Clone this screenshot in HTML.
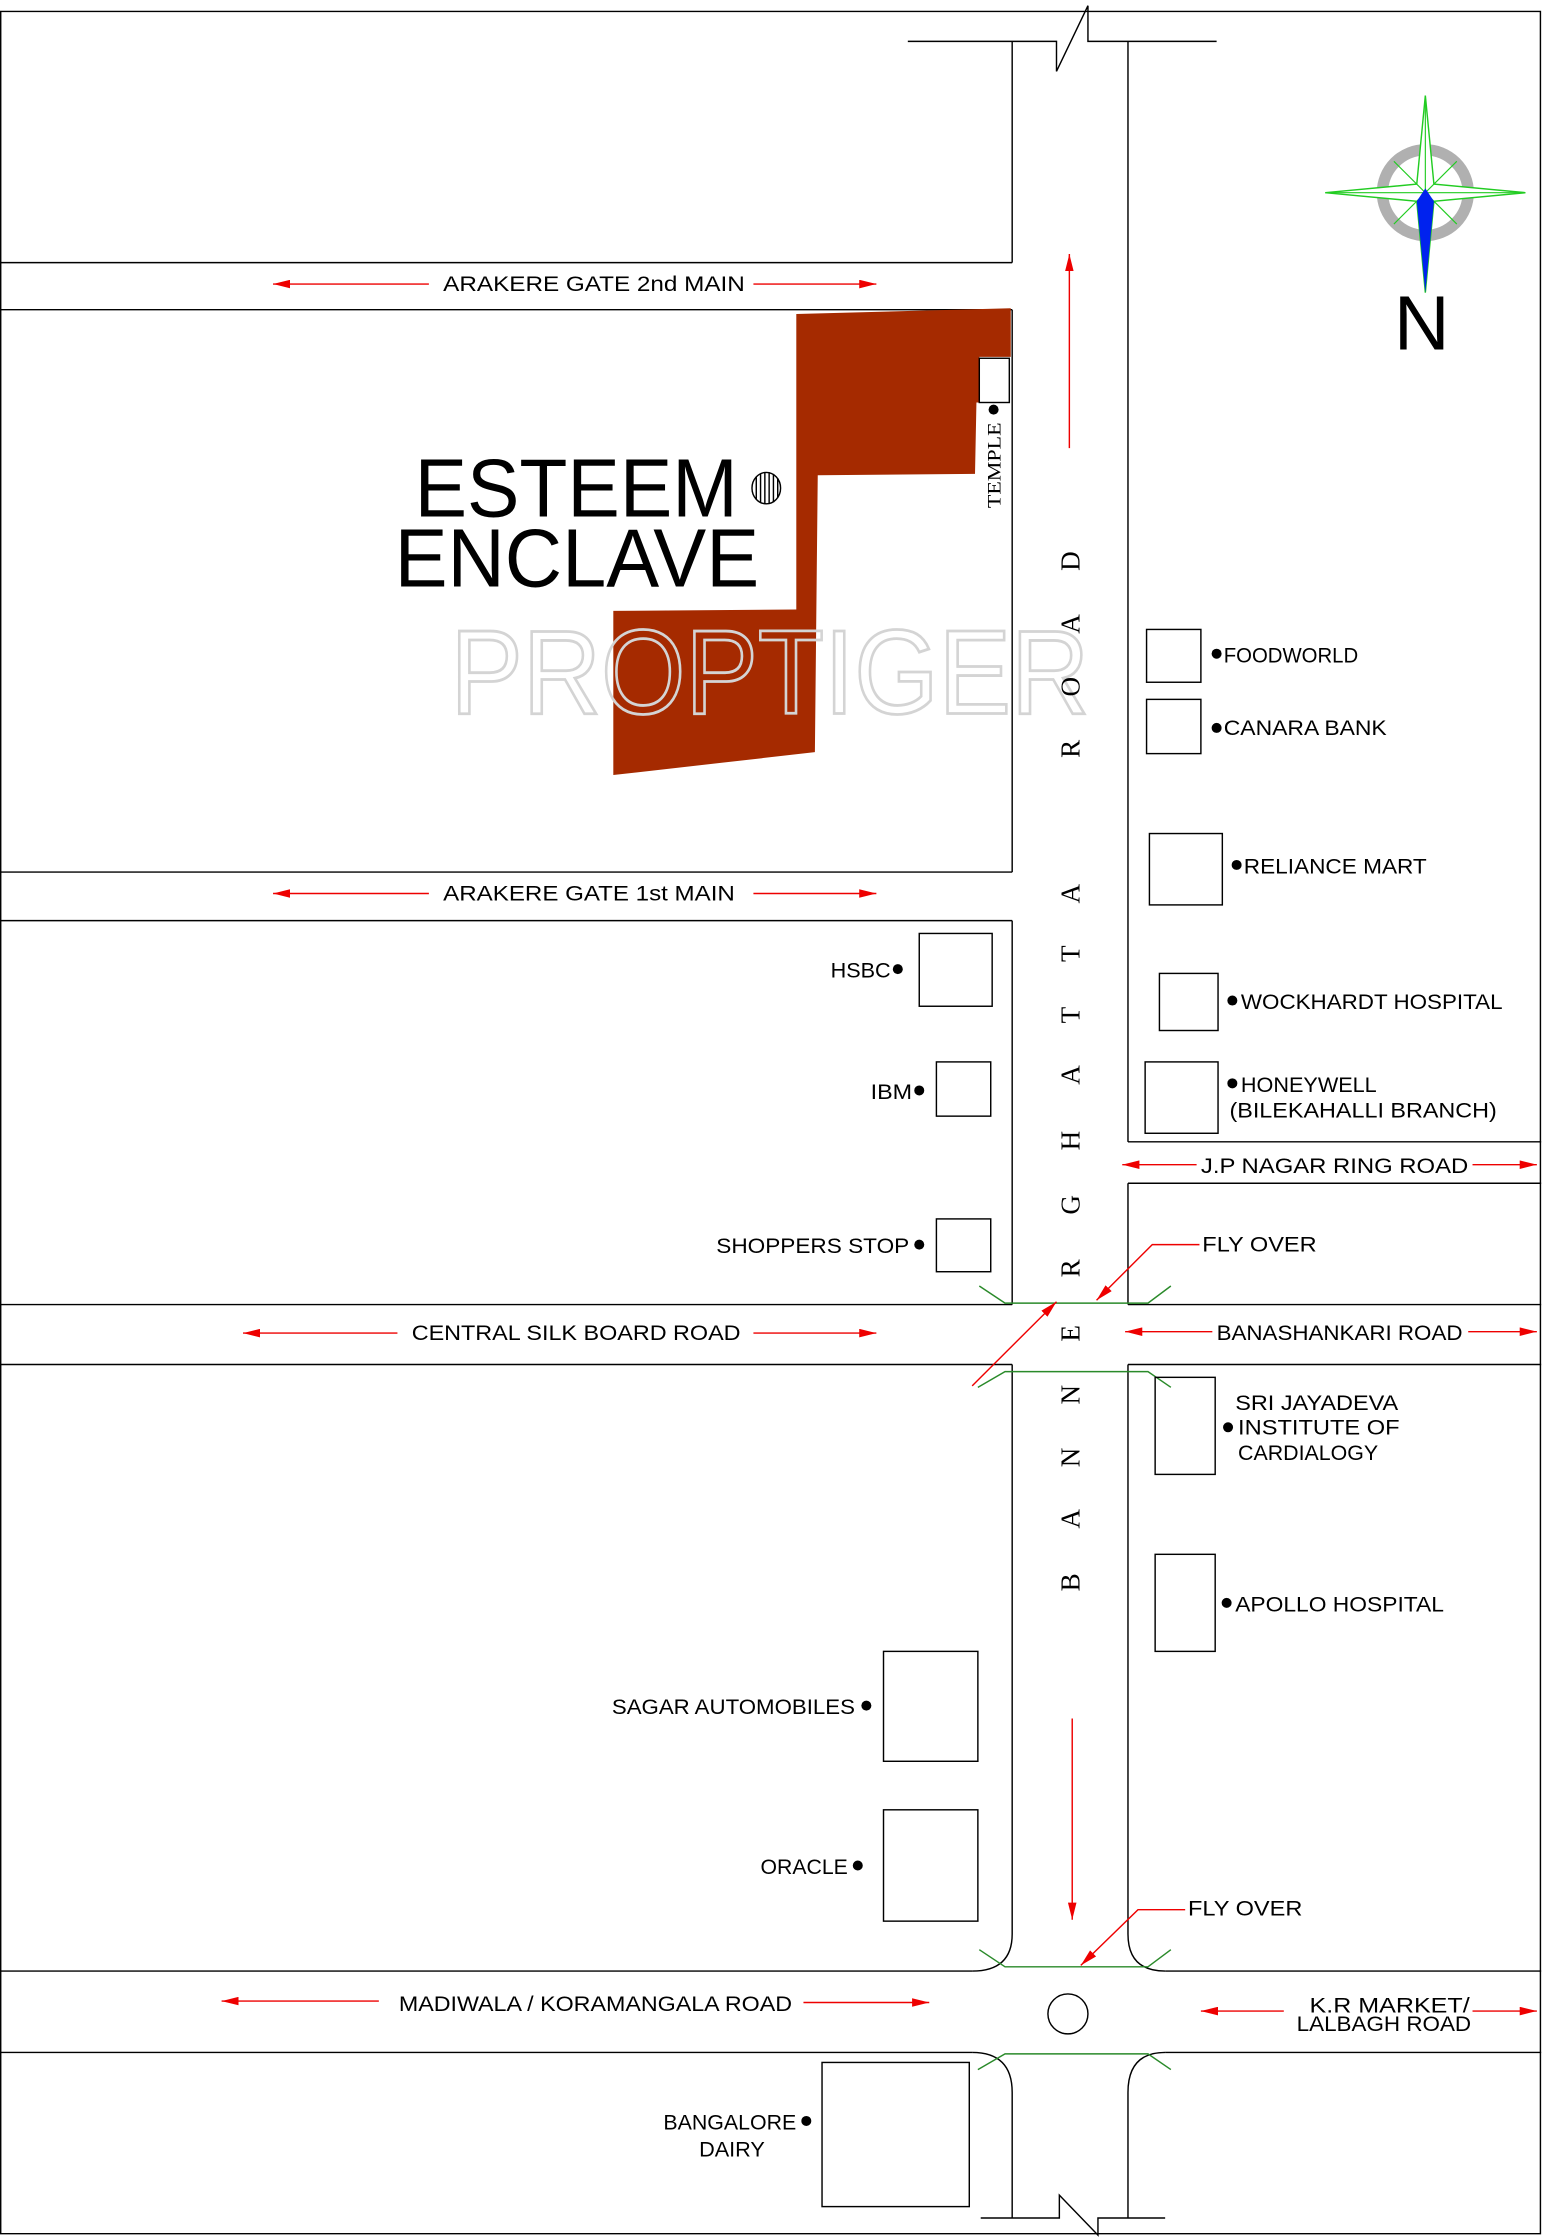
<!DOCTYPE html>
<html><head><meta charset="utf-8">
<style>
html,body{margin:0;padding:0;background:#fff;}
svg{display:block;}
</style></head>
<body>
<svg width="1544" height="2238" viewBox="0 0 1080 1568" preserveAspectRatio="none" xmlns="http://www.w3.org/2000/svg" font-family="Liberation Sans, sans-serif" font-size="15">
<defs>
<marker id="ah" viewBox="0 0 12 6" refX="12" refY="3" markerWidth="12" markerHeight="6" markerUnits="userSpaceOnUse" orient="auto">
<path d="M0,0 L12,3 L0,6 z" fill="#e00"/></marker>
</defs>
<rect width="1080" height="1568" fill="#fff"/>
<g fill="none" stroke="#000" stroke-width="1">
<path d="M0.5,8 H1077.5 V1565 H0.5 Z"/>
<path d="M635,29 H739 V50 L761,4 V29 H851"/>
<path d="M708,29 V184 M708,217 V611 M708,645 V914 M708,956 V1355 Q708,1381 680,1381 M680,1438 Q708,1438 708,1466 V1554"/>
<path d="M789,29 V800 M789,829 V914 M789,956 V1355 Q789,1381 815,1381 M815,1438 Q789,1438 789,1466 V1554"/>
<path d="M0,184 H708 M0,217 H708 M0,611 H708 M0,645 H708 M0,914 H708 M0,956 H708 M0,1381 H680 M0,1438 H680"/>
<path d="M789,800 H1078 M789,829 H1078 M789,914 H1078 M789,956 H1078 M815,1381 H1078 M815,1438 H1078"/>
<path d="M686,1554 H741 V1538 L768,1566 V1554 H815"/>
</g>
<g fill="none" stroke="#2a8a2a" stroke-width="1">
<polyline points="685,901 703,913 803,913 819,901"/>
<polyline points="684,972 703,961 803,961 819,972"/>
<polyline points="685,1366 703,1378 803,1378 819,1366"/>
<polyline points="684,1450 703,1439 803,1439 819,1450"/>
</g>
<polygon points="557,220 707,216 707,250 685,250 685,282 683,282 682,332 572,333 570,527 429,543 429,428 557,427" fill="#a52a00"/>
<rect x="685" y="251" width="21" height="31" fill="#fff" stroke="#000"/>
<circle cx="695" cy="287" r="3.5" fill="#000"/>
<text font-family="Liberation Serif, serif" transform="translate(700,356) rotate(-90)" font-size="13" textLength="60" lengthAdjust="spacingAndGlyphs">TEMPLE</text>
<g stroke="#000" stroke-width="1">
<ellipse cx="536" cy="342" rx="10" ry="11" fill="#fff"/>
<path d="M529,334 V350 M532,332 V352 M535,331 V353 M538,331 V353 M541,332 V352 M544,335 V349"/>
</g>
<text x="290" y="362" font-size="58" textLength="226" lengthAdjust="spacingAndGlyphs">ESTEEM</text>
<text x="276" y="411" font-size="58" textLength="255" lengthAdjust="spacingAndGlyphs">ENCLAVE</text>
<text x="315" y="500" font-size="84" fill="none" stroke="#d4d4d4" stroke-width="2" textLength="447" lengthAdjust="spacingAndGlyphs">PROPTIGER</text>
<g>
<circle cx="997" cy="135" r="30" fill="none" stroke="#b0b0b0" stroke-width="8"/>
<polygon points="997,67 1003,129 1067,135 1003,141 997,205 991,141 927,135 991,129" fill="#fff" stroke="#22cc22" stroke-width="1"/>
<path d="M997,67 V205 M927,135 H1067 M975,113 L1019,157 M1019,113 L975,157" stroke="#22cc22" stroke-width="0.8"/>
<polygon points="991,141 997,132 1003,141 997,205" fill="#0022ee"/>
<text x="975" y="245" font-size="54">N</text>
</g>
<g font-family="Liberation Serif, serif" font-size="19">
<text transform="translate(755,1115) rotate(-90)">B</text>
<text transform="translate(755,1071) rotate(-90)">A</text>
<text transform="translate(755,1028) rotate(-90)">N</text>
<text transform="translate(755,984) rotate(-90)">N</text>
<text transform="translate(755,940) rotate(-90)">E</text>
<text transform="translate(755,895) rotate(-90)">R</text>
<text transform="translate(755,851) rotate(-90)">G</text>
<text transform="translate(755,806) rotate(-90)">H</text>
<text transform="translate(755,760) rotate(-90)">A</text>
<text transform="translate(755,717) rotate(-90)">T</text>
<text transform="translate(755,674) rotate(-90)">T</text>
<text transform="translate(755,633) rotate(-90)">A</text>
<text transform="translate(755,531) rotate(-90)">R</text>
<text transform="translate(755,488) rotate(-90)">O</text>
<text transform="translate(755,444) rotate(-90)">A</text>
<text transform="translate(755,400) rotate(-90)">D</text>
</g>
<g stroke="#e00" stroke-width="1" fill="none" marker-end="url(#ah)">
<path d="M300,199 H191"/><path d="M527,199 H613"/>
<path d="M300,626 H191"/><path d="M527,626 H613"/>
<path d="M278,934 H170"/><path d="M527,934 H613"/>
<path d="M848,933 H787"/><path d="M1027,933 H1075"/>
<path d="M837,816 H785"/><path d="M1030,816 H1075"/>
<path d="M265,1402 H155"/><path d="M562,1403 H650"/>
<path d="M898,1409 H840"/><path d="M1030,1409 H1075"/>
<path d="M748,314 V178"/>
<path d="M750,1204 V1345"/>
<path d="M839,872 H806 L767,911"/>
<path d="M680,971 L739,912"/>
<path d="M829,1338 H796 L756,1377"/>
</g>
<circle cx="747" cy="1411" r="14" fill="none" stroke="#000"/>
<text x="310" y="204" textLength="211" lengthAdjust="spacingAndGlyphs">ARAKERE  GATE  2nd  MAIN</text>
<text x="310" y="631" textLength="204" lengthAdjust="spacingAndGlyphs">ARAKERE  GATE  1st  MAIN</text>
<text x="288" y="939" textLength="230" lengthAdjust="spacingAndGlyphs">CENTRAL  SILK  BOARD  ROAD</text>
<text x="851" y="939" textLength="172" lengthAdjust="spacingAndGlyphs">BANASHANKARI  ROAD</text>
<text x="840" y="822" textLength="187" lengthAdjust="spacingAndGlyphs">J.P  NAGAR  RING  ROAD</text>
<text x="279" y="1409" textLength="275" lengthAdjust="spacingAndGlyphs">MADIWALA  /  KORAMANGALA  ROAD</text>
<text x="916" y="1410" textLength="112" lengthAdjust="spacingAndGlyphs">K.R  MARKET/</text>
<text x="907" y="1423" textLength="122" lengthAdjust="spacingAndGlyphs">LALBAGH  ROAD</text>
<text x="841" y="877" textLength="80" lengthAdjust="spacingAndGlyphs">FLY  OVER</text>
<text x="831" y="1342" textLength="80" lengthAdjust="spacingAndGlyphs">FLY  OVER</text>
<g fill="none" stroke="#000">
<rect x="802" y="441" width="38" height="37"/>
<rect x="802" y="490" width="38" height="38"/>
<rect x="804" y="584" width="51" height="50"/>
<rect x="811" y="682" width="41" height="40"/>
<rect x="801" y="744" width="51" height="50"/>
<rect x="808" y="965" width="42" height="68"/>
<rect x="808" y="1089" width="42" height="68"/>
<rect x="643" y="654" width="51" height="51"/>
<rect x="655" y="744" width="38" height="38"/>
<rect x="655" y="854" width="38" height="37"/>
<rect x="618" y="1157" width="66" height="77"/>
<rect x="618" y="1268" width="66" height="78"/>
<rect x="575" y="1445" width="103" height="101"/>
</g>
<g fill="#000">
<circle cx="851" cy="458" r="3.5"/><circle cx="851" cy="510" r="3.5"/>
<circle cx="865" cy="606" r="3.5"/><circle cx="862" cy="701" r="3.5"/>
<circle cx="862" cy="759" r="3.5"/><circle cx="859" cy="1000" r="3.5"/>
<circle cx="858" cy="1123" r="3.5"/>
<circle cx="628" cy="679" r="3.5"/><circle cx="643" cy="764" r="3.5"/>
<circle cx="643" cy="872" r="3.5"/><circle cx="606" cy="1195" r="3.5"/>
<circle cx="600" cy="1307" r="3.5"/><circle cx="564" cy="1486" r="3.5"/>
</g>
<text x="856" y="464" textLength="94" lengthAdjust="spacingAndGlyphs">FOODWORLD</text>
<text x="856" y="515" textLength="114" lengthAdjust="spacingAndGlyphs">CANARA  BANK</text>
<text x="870" y="612" textLength="128" lengthAdjust="spacingAndGlyphs">RELIANCE  MART</text>
<text x="868" y="707" textLength="183" lengthAdjust="spacingAndGlyphs">WOCKHARDT  HOSPITAL</text>
<text x="868" y="765" textLength="95" lengthAdjust="spacingAndGlyphs">HONEYWELL</text>
<text x="860" y="783" textLength="187" lengthAdjust="spacingAndGlyphs">(BILEKAHALLI  BRANCH)</text>
<text x="864" y="988" textLength="114" lengthAdjust="spacingAndGlyphs">SRI  JAYADEVA</text>
<text x="866" y="1005" textLength="113" lengthAdjust="spacingAndGlyphs">INSTITUTE  OF</text>
<text x="866" y="1023" textLength="98" lengthAdjust="spacingAndGlyphs">CARDIALOGY</text>
<text x="864" y="1129" textLength="146" lengthAdjust="spacingAndGlyphs">APOLLO  HOSPITAL</text>
<text x="581" y="685" textLength="42" lengthAdjust="spacingAndGlyphs">HSBC</text>
<text x="609" y="770" textLength="29" lengthAdjust="spacingAndGlyphs">IBM</text>
<text x="501" y="878" textLength="135" lengthAdjust="spacingAndGlyphs">SHOPPERS  STOP</text>
<text x="428" y="1201" textLength="170" lengthAdjust="spacingAndGlyphs">SAGAR  AUTOMOBILES</text>
<text x="532" y="1313" textLength="61" lengthAdjust="spacingAndGlyphs">ORACLE</text>
<text x="464" y="1492" textLength="93" lengthAdjust="spacingAndGlyphs">BANGALORE</text>
<text x="489" y="1511" textLength="46" lengthAdjust="spacingAndGlyphs">DAIRY</text>
</svg>
</body></html>
